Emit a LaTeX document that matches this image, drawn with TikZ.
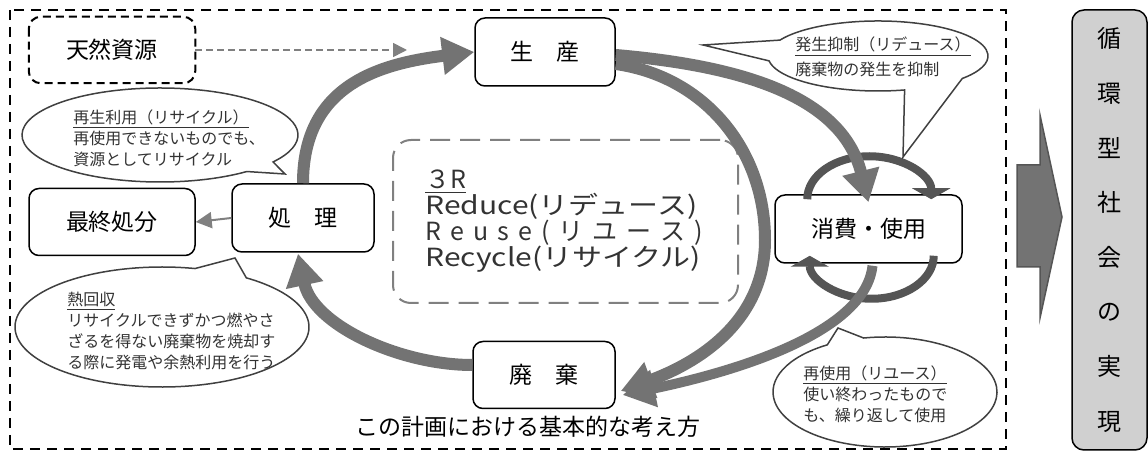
\documentclass[tikz,border=0pt]{standalone}
\usepackage{fontspec}
\usepackage{graphicx}
\setmainfont{Noto Sans CJK JP}
\usetikzlibrary{arrows.meta,positioning}
\definecolor{bandgrey}{RGB}{115,115,115}
\definecolor{arcgrey}{RGB}{85,85,85}
\definecolor{linegrey}{RGB}{128,128,128}
\definecolor{fillgrey}{RGB}{208,208,208}
\definecolor{txtgrey}{RGB}{51,51,51}
\tikzset{
  stagebox/.style={draw, fill=white, line width=0.75pt, rounded corners=5pt, inner sep=0pt,
    font=\fontsize{11.5pt}{14pt}\selectfont},
  bigband/.style={draw=bandgrey, line width=6pt, -{Triangle[length=16pt,width=18pt]}},
  ringarrow/.style={draw=arcgrey, line width=4pt, -{Triangle[length=5.5pt,width=19pt]}},
  thinarrow/.style={draw=linegrey, line width=1pt, -{Triangle[length=8pt,width=8pt]}},
  feedarrow/.style={draw=linegrey, line width=0.8pt, dash pattern=on 3.5pt off 2pt,
    -{Triangle[length=7pt,width=7pt]}},
  callout/.style={draw=black!75, line width=0.75pt, fill=white},
  callouttext/.style={align=left, anchor=west, inner sep=0pt, text=txtgrey,
    font=\fontsize{8pt}{10.5pt}\selectfont},
  rtext/.style={anchor=base west, inner sep=0pt, text=txtgrey,
    font=\fontsize{12.5pt}{12.5pt}\selectfont},
}
\begin{document}
\begin{tikzpicture}[x=0.5pt, y=0.5pt]
    \useasboundingbox (0,0) rectangle (1148,-454);
    % frame of the plan
    \draw[dash pattern=on 5pt off 3.5pt, line width=1pt] (10,-10) rectangle (1006,-449);
    \node[draw=linegrey, dash pattern=on 10pt off 5pt, line width=1pt, rounded corners=9pt,
      minimum width=172.5pt, minimum height=81.5pt] (threer) at (565.5,-221.5) {};
    \node[rtext] (rtitle) at (425,-189) {\underline{３R}};
    \node[rtext] (rreduce) at (425,-215) {\scalebox{1.2}[1]{Reduce(リデュース)}};
    \node[rtext] (rreuse) at (425,-241) {\makebox[139pt][s]{R e u s e ( リ ユ ー ス )}};
    \node[rtext] (rrecycle) at (425,-267) {\scalebox{1.2}[1]{Recycle(リサイクル)}};
    % stages
    \node[stagebox, draw=none, fill=none, minimum width=82.5pt, minimum height=32.5pt] (tennen) at (112,-50) {天然資源};
    \draw[dash pattern=on 4pt off 2.5pt, line width=1pt, rounded corners=6pt]
      (tennen.north west) rectangle (tennen.south east);
    \node[stagebox, minimum width=70pt, minimum height=34pt] (seisan) at (545,-52) {生　産};
    \node[stagebox, minimum width=93.5pt, minimum height=34pt] (shohi) at (868.5,-229) {消費・使用};
    \node[stagebox, minimum width=71pt, minimum height=33.5pt] (haiki) at (544,-375) {廃　棄};
    \node[stagebox, minimum width=71pt, minimum height=34pt] (shori) at (303,-218) {処　理};
    \node[stagebox, minimum width=83pt, minimum height=33.5pt] (saishu) at (112,-222) {最終処分};
    \node[font=\fontsize{11.5pt}{14pt}\selectfont, inner sep=0pt] (caption) at (528,-427) {この計画における基本的な考え方};
    % small arrows
    \coordinate (feedin) at (407,-50);
    \draw[feedarrow] (tennen.east) -- (feedin);
    \draw[thinarrow] (shori.west) -- (saishu.east);
    % ring round consumption
    \draw[ringarrow] ([shift={(33,-5)}]shohi.north west) arc[start angle=180, end angle=0, x radius=62, y radius=43];
    \draw[ringarrow] ([shift={(-29,8)}]shohi.south east) arc[start angle=0, end angle=-180, x radius=62, y radius=43];
    % main cycle
    \coordinate (bendB) at (765,-240);
    \draw[bigband] (shori.north) to[out=90, in=187, looseness=1.15] (seisan.west);
    \draw[bigband] ([shift={(0,-3)}]seisan.east) to[out=-5, in=104] ([shift={(0,-8)}]shohi.north);
    \draw[bigband] ([shift={(0,-12)}]seisan.east) to[out=-8, in=90] (bendB)
      to[out=-90, in=20] ([shift={(5,-16)}]haiki.east);
    \draw[bigband, line width=5pt] ([shift={(4,-2)}]shohi.south) .. controls +(-7,-65) and +(120,25) .. ([shift={(7,-20)}]haiki.east);
    \draw[bigband] ([shift={(0,10)}]haiki.west) to[out=180, in=-78, looseness=0.9] ([shift={(-5,-1)}]shori.south);
    % speech bubbles
    \draw[callout] (160,-135) ++(-51:138 and 47) arc[start angle=-51, end angle=-395, x radius=138, y radius=47]
      -- (285,-174) -- cycle;
    \node[callouttext] (recyclenote) at (73,-138) {\underline{再生利用（リサイクル）}\\再使用できないものでも、\\資源としてリサイクル};
    \draw[callout] (162,-327) ++(55:147 and 60) arc[start angle=55, end angle=-283, x radius=147, y radius=60]
      -- (235,-258) -- cycle;
    \node[callouttext] (heatnote) at (67,-331) {\underline{熱回収}\\リサイクルできずかつ燃やさ\\ざるを得ない廃棄物を焼却す\\る際に発電や余熱利用を行う};
    \draw[callout] (878,-56) ++(-76:110 and 35) arc[start angle=-76, end angle=-172, x radius=110, y radius=35]
      -- (703,-45) -- (780,-40.1) arc[start angle=-207, end angle=-400, x radius=110, y radius=35]
      -- (903,-157) -- cycle;
    \node[callouttext] (reducenote) at (795,-57) {\underline{発生抑制（リデュース）}\\[2pt]廃棄物の発生を抑制};
    \draw[callout] (885,-392) ++(-259:112 and 55) arc[start angle=-259, end angle=-599, x radius=112, y radius=55]
      -- (838,-328) -- cycle;
    \node[callouttext] (reusenote) at (803,-394) {\underline{再使用（リユース）}\\使い終わったもので\\も、繰り返して使用};
    % outcome
    \draw[draw=arcgrey, fill=bandgrey, line width=0.75pt] (1017,-165) -- (1040,-165) -- (1040,-115) -- (1062,-217)
      -- (1040,-318) -- (1040,-267) -- (1017,-267) -- cycle;
    \node[draw, fill=fillgrey, line width=0.75pt, rounded corners=6pt, minimum width=37.5pt, minimum height=220pt,
      inner sep=0pt, align=center, font=\fontsize{12pt}{27.3pt}\selectfont] (junkan) at (1109.5,-230)
      {循\\環\\型\\社\\会\\の\\実\\現};
\end{tikzpicture}
\end{document}
